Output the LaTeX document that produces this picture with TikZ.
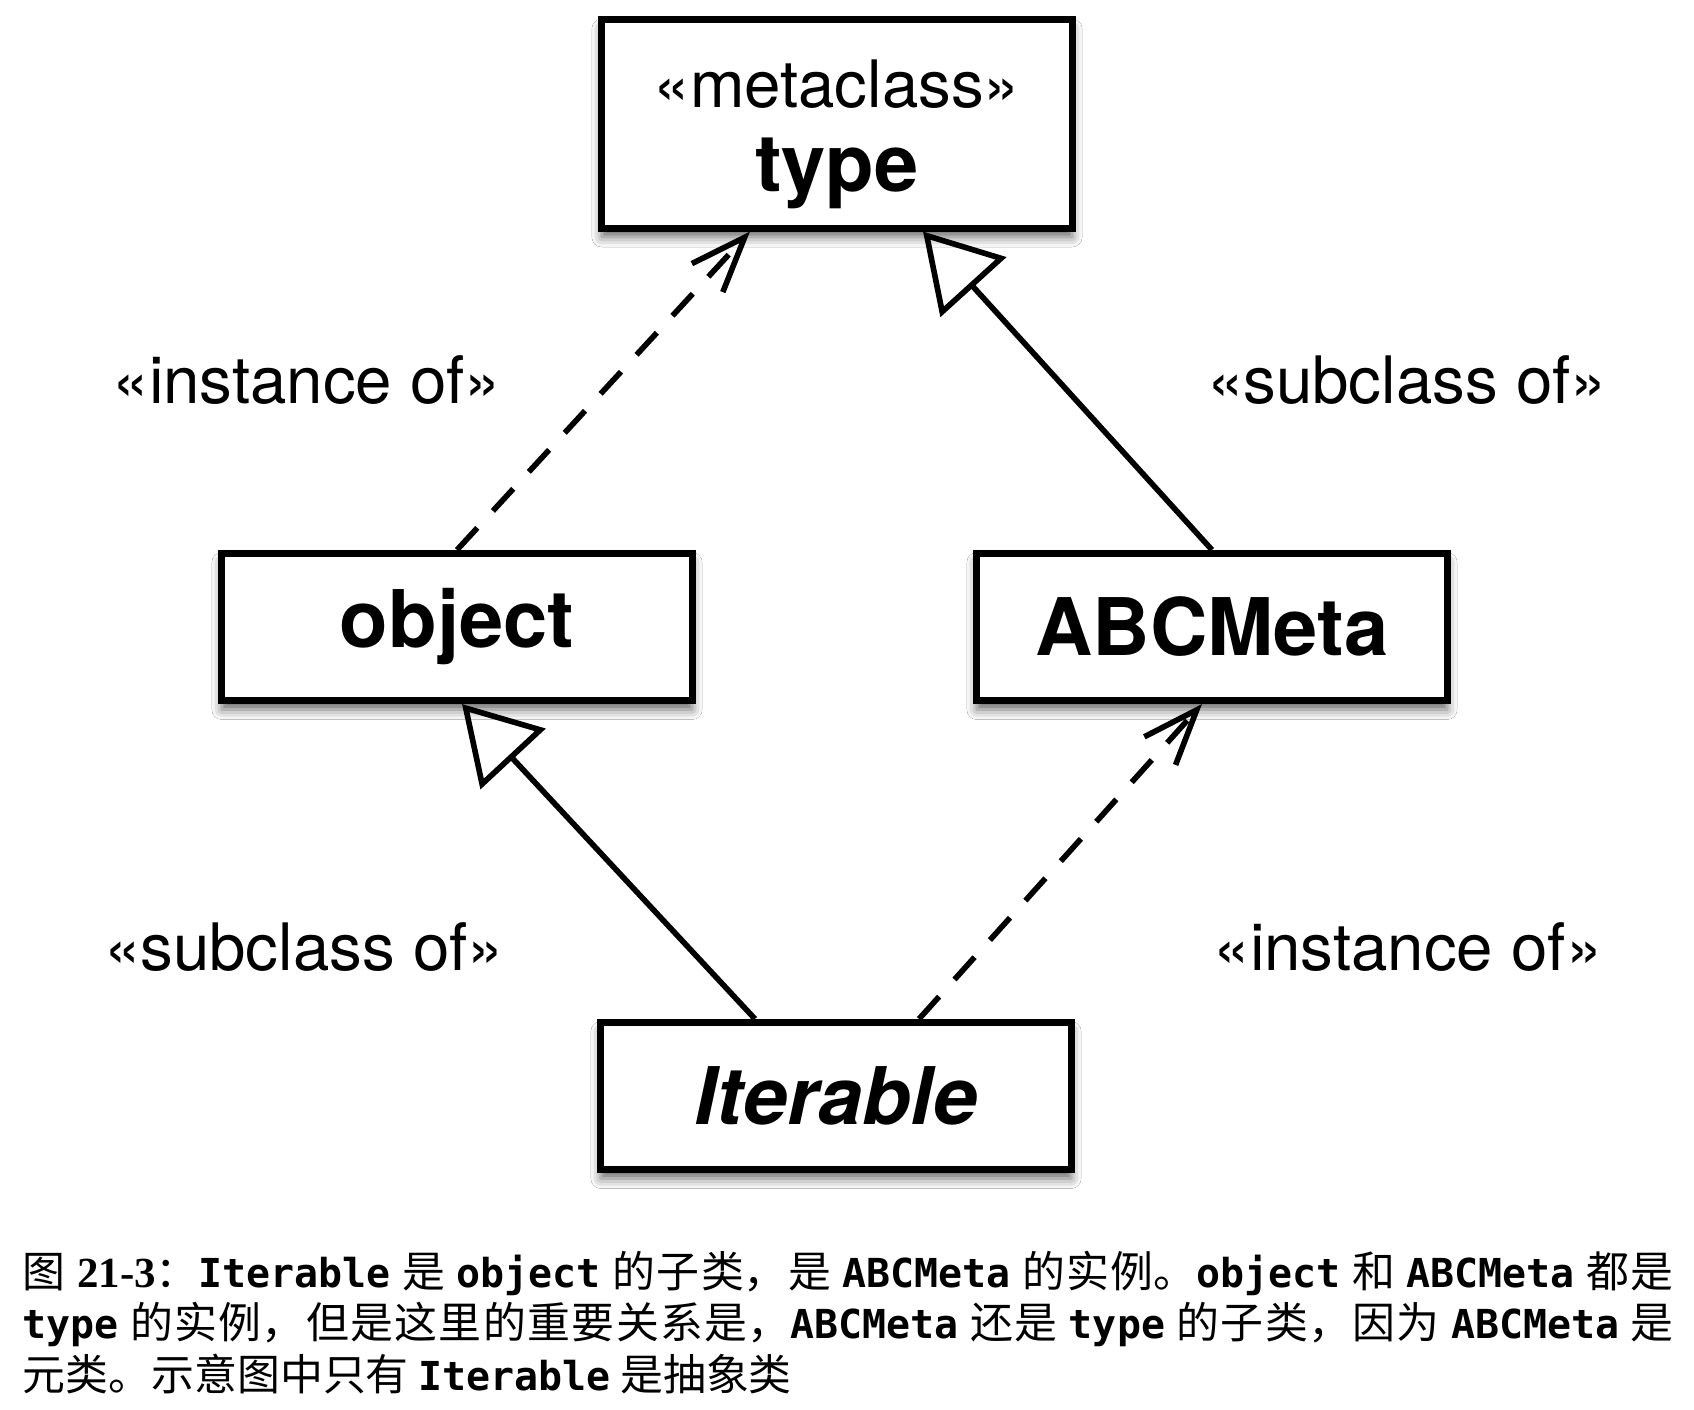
\documentclass[tikz,border=0pt]{standalone}
\usepackage{fontspec}
\setmainfont{TeX Gyre Heros}
\newfontfamily\cjkfont{Noto Sans CJK SC}
\newfontfamily\codefont{DejaVu Sans Mono}[Scale=0.93]
\newfontfamily\numfont{Liberation Serif}
\usetikzlibrary{arrows.meta,shadows.blur}
\XeTeXlinebreaklocale "zh"
\XeTeXlinebreakskip=0pt plus 1pt minus 0.2pt
\newcommand{\code}[1]{{\codefont\bfseries #1}}

\begin{document}
\begin{tikzpicture}[
    x=0.01cm, y=-0.01cm,
    classbox/.style={rectangle, draw, line width=2pt, fill=white, minimum width=4.70cm, minimum height=1.47cm, inner sep=0pt,
        blur shadow={shadow xshift=0cm, shadow yshift=-0.09cm, shadow blur radius=0.1cm, shadow opacity=60},
        font=\fontsize{22.6}{26}\selectfont\bfseries},
    relation/.style={anchor=base, font=\fontsize{18.6}{22}\selectfont},
    instanceof/.style={line width=1.6pt, dash pattern=on 0.3cm off 0.23cm, -{Straight Barb[length=0.55cm, width=0.42cm, line width=1.6pt]}},
    subclassof/.style={line width=1.6pt, -{Triangle[open, length=0.75cm, width=0.88cm, line width=1.6pt]}},
    caption/.style={anchor=north west, inner sep=0pt, text width=16.50cm, align=justify, font=\fontsize{12.2}{14.7}\selectfont\cjkfont}
]
\fill[white] (0,0) rectangle (1694,1410);
\useasboundingbox (0,0) rectangle (1694,1410);

% Metaclass
\node[classbox, minimum height=2.08cm] (type) at (837,124) {};
\node[anchor=base, font=\fontsize{18.6}{22}\selectfont] (typestereo) at (837,108) {«metaclass»};
\node[anchor=base, font=\fontsize{22.6}{26}\selectfont\bfseries] (typename) at (837,192) {type};

% Classes
\node[classbox] (object) at (457,627) {object};
\node[classbox] (abcmeta) at (1212,627) {ABCMeta};
\node[classbox, font=\fontsize{22.6}{26}\selectfont\bfseries\itshape] (iterable) at (836,1096) {Iterable};

% Arrows
\draw[instanceof] (object.north) -- ([xshift=-0.87cm]type.south);
\draw[subclassof] (abcmeta.north) -- ([xshift=0.86cm]type.south);
\draw[subclassof] ([xshift=-0.81cm]iterable.north) -- ([xshift=0.05cm]object.south);
\draw[instanceof] ([xshift=0.83cm]iterable.north) -- ([xshift=-0.1cm]abcmeta.south);

% Labels
\node[relation] (instupper) at (307,404) {«instance of»};
\node[relation] (subupper) at (1407,404) {«subclass of»};
\node[relation] (sublower) at (304,970) {«subclass of»};
\node[relation] (instlower) at (1408,970) {«instance of»};

% Caption
\node[caption] (cap) at (22,1250) {图 {\numfont\bfseries 21-3}：\code{Iterable} 是 \code{object} 的子类，是 \code{ABCMeta} 的实例。\code{object} 和 \code{ABCMeta} 都是\linebreak
\code{type} 的实例，但是这里的重要关系是，\code{ABCMeta} 还是 \code{type} 的子类，因为 \code{ABCMeta} 是\linebreak
元类。示意图中只有 \code{Iterable} 是抽象类};

\end{tikzpicture}
\end{document}
